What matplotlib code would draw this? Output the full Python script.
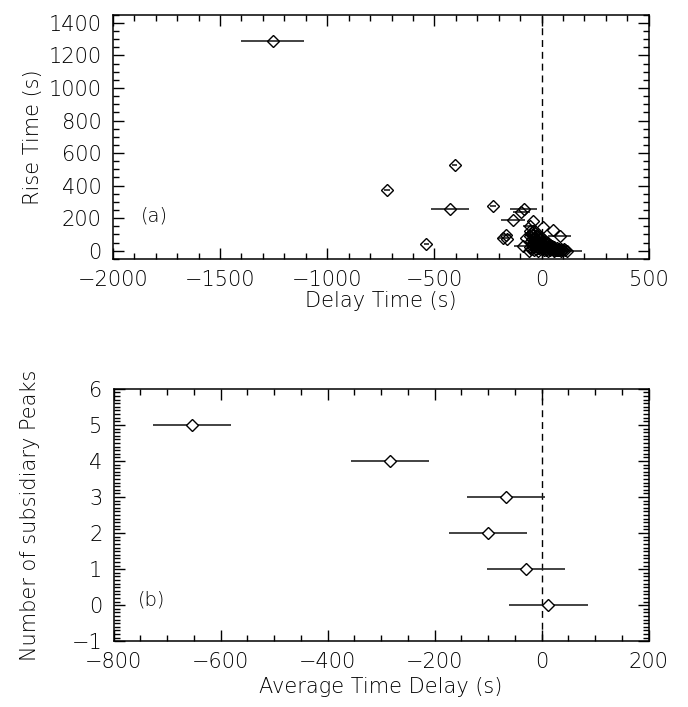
import matplotlib
matplotlib.use("Agg")
import matplotlib.pyplot as plt
from matplotlib.ticker import MultipleLocator

# ---- Panel (a) data: delay time, rise time, delay uncertainty ----
delay_a = [-1255, -721, -406, -426, -227, -538, -84, -95, -134, -56,
           -40, 6, 53, 84, -165, -180, -160, -87, -40, -71,
           -55, -48, -40, -35, -30, -25, -20, -15, -10, -5,
           0, 5, 10, 15, 20, 25, 30, 35, 40, 45,
           50, 55, 60, 65, 70, 75, 80, 85, 90, 100,
           110, 120, -50, -45, -40, -35, -30, -20, -10, 0,
           10, 20, -55, -25, 5, -60, 30, 60, 90, -15,
           -52, -44, -36, -28, -22, -12, -6, 2, 8, 14,
           22, 28, 36, 44, 52, 62, 72, 82, 95, 105,
           -32, -18, -2, 12, 26, 40, 58, 78, -48, -8]
rise_a = [1290, 375, 525, 256, 275, 40, 256, 238, 190, 150,
          180, 145, 125, 92, 98, 80, 70, 31, 119, 78,
          120, 105, 95, 80, 110, 70, 95, 60, 85, 50,
          75, 40, 65, 30, 55, 20, 45, 15, 35, 10,
          28, 8, 20, 5, 15, 3, 10, 2, 8, 4,
          2, 0, 60, 40, 20, 5, 50, 30, 15, 10,
          5, 2, 25, 10, 20, 0, 0, 0, 0, 0,
          90, 70, 60, 90, 45, 40, 70, 55, 35, 45,
          38, 25, 25, 22, 15, 12, 6, 5, 2, 10,
          30, 15, 25, 18, 8, 5, 4, 2, 12, 35]
xerr_a = [145, 12, 12, 88, 12, 12, 62, 40, 55, 30,
          0, 0, 0, 52, 20, 25, 0, 40, 0, 0,
          0, 20, 0, 30, 0, 25, 0, 0, 30, 0,
          0, 20, 0, 0, 30, 0, 0, 25, 0, 0,
          30, 0, 0, 0, 20, 0, 0, 0, 0, 0,
          0, 70, 0, 0, 30, 0, 0, 0, 20, 0,
          0, 0, 0, 0, 0, 0, 0, 0, 0, 0,
          0, 0, 15, 0, 0, 0, 0, 0, 0, 0,
          0, 0, 0, 0, 0, 0, 0, 0, 0, 0,
          0, 0, 0, 0, 0, 0, 0, 0, 0, 0]

# ---- Panel (b) data: average delay, number of subsidiary peaks, uncertainty ----
delay_b = [-654, -283, -67, -100, -29, 12]
peaks_b = [5, 4, 3, 2, 1, 0]
xerr_b = [73, 73, 73, 73, 73, 74]

FS = 15
plt.rcParams['font.family'] = ['DejaVu Sans']

fig = plt.figure(figsize=(6.88, 7.07), dpi=100)
axA = fig.add_axes([0.164, 0.634, 0.779, 0.345])
axB = fig.add_axes([0.165, 0.093, 0.778, 0.357])

def style(ax):
    for s in ax.spines.values():
        s.set_linewidth(1.1)
    ax.tick_params(which='both', direction='in', top=True, right=True,
                   labelsize=FS, width=1.0, pad=8)
    ax.tick_params(which='major', length=8)
    ax.tick_params(which='minor', length=4)
    for lab in ax.get_xticklabels() + ax.get_yticklabels():
        lab.set_fontweight('light')

# Panel (a)
axA.errorbar(delay_a, rise_a, xerr=xerr_a, fmt='none', ecolor='#222222',
             elinewidth=1.2, capsize=0, zorder=2)
axA.plot(delay_a, rise_a, linestyle='none', marker='D', markersize=6.5,
         mfc='none', mec='black', mew=1.0, zorder=3)
axA.axvline(0, color='black', lw=1.0, ls=(0, (5, 3.5)), zorder=1)
axA.set_xlim(-2000, 500)
axA.set_ylim(-50, 1450)
axA.xaxis.set_major_locator(MultipleLocator(500))
axA.xaxis.set_minor_locator(MultipleLocator(100))
axA.yaxis.set_major_locator(MultipleLocator(200))
axA.yaxis.set_minor_locator(MultipleLocator(50))
axA.set_xlabel('Delay Time (s)', fontsize=FS, fontweight='light', labelpad=1)
axA.set_ylabel('Rise Time (s)', fontsize=FS, fontweight='light', labelpad=4)
axA.text(-1870, 210, '(a)', fontsize=FS - 1, fontweight='light', ha='left', va='center')
style(axA)

# Panel (b)
axB.errorbar(delay_b, peaks_b, xerr=xerr_b, fmt='none', ecolor='#222222',
             elinewidth=1.2, capsize=0, zorder=2)
axB.plot(delay_b, peaks_b, linestyle='none', marker='D', markersize=6.5,
         mfc='white', mec='black', mew=1.0, zorder=3)
axB.axvline(0, color='black', lw=1.0, ls=(0, (5, 3.5)), zorder=1)
axB.set_xlim(-800, 200)
axB.set_ylim(-1, 6)
axB.xaxis.set_major_locator(MultipleLocator(200))
axB.xaxis.set_minor_locator(MultipleLocator(50))
axB.yaxis.set_major_locator(MultipleLocator(1))
axB.yaxis.set_minor_locator(MultipleLocator(0.1))
axB.set_xlabel('Average Time Delay (s)', fontsize=FS, fontweight='light', labelpad=3)
axB.set_ylabel('Number of subsidiary Peaks', fontsize=FS, fontweight='light', labelpad=23)
axB.text(-755, 0.15, '(b)', fontsize=FS - 1, fontweight='light', ha='left', va='center')
style(axB)

fig.savefig('out.png', dpi=100)
